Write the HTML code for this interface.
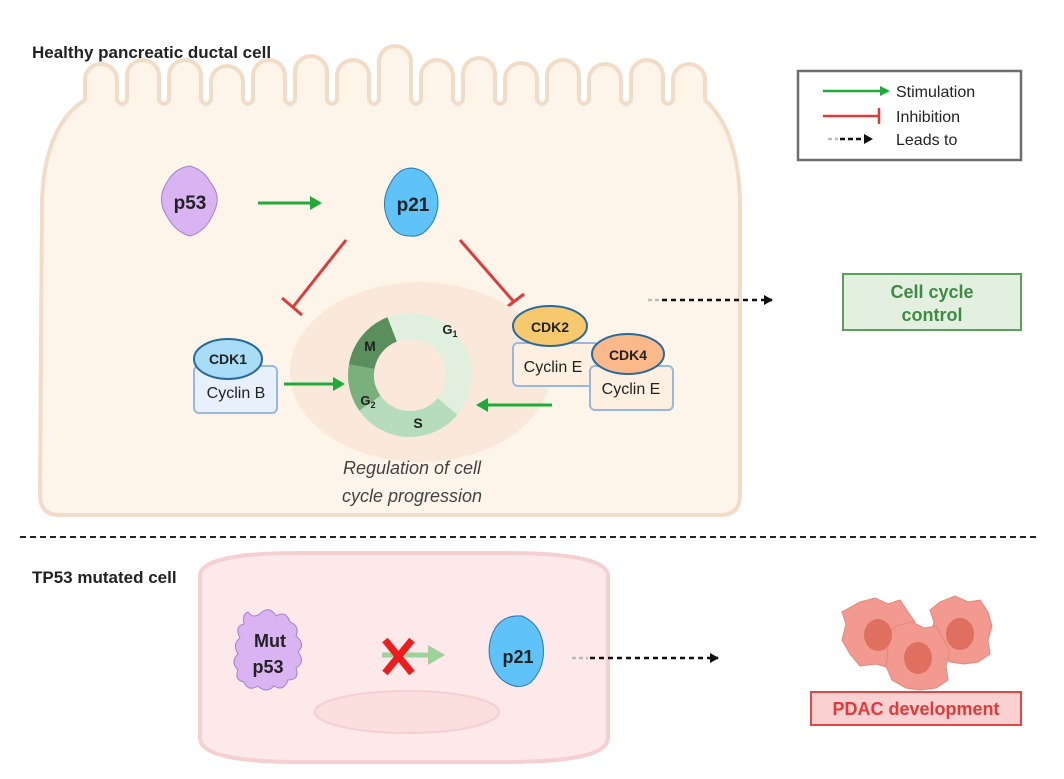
<!DOCTYPE html>
<html><head><meta charset="utf-8"><style>
html,body{margin:0;padding:0;background:#fff;}
svg{display:block;font-family:"Liberation Sans",sans-serif;}
</style></head><body>
<svg width="1064" height="779" viewBox="0 0 1064 779" xmlns="http://www.w3.org/2000/svg">
<defs>
<marker id="ga" markerWidth="10" markerHeight="10" refX="8" refY="5" orient="auto" markerUnits="userSpaceOnUse"><path d="M0,0 L10,5 L0,10 Z" fill="#1faa3a"/></marker>
<marker id="gaL" markerWidth="12" markerHeight="14" refX="10" refY="7" orient="auto" markerUnits="userSpaceOnUse"><path d="M0,0 L12,7 L0,14 Z" fill="#1faa3a"/></marker>
<marker id="ka" markerWidth="9" markerHeight="10" refX="8" refY="5" orient="auto" markerUnits="userSpaceOnUse"><path d="M0,0 L9,5 L0,10 Z" fill="#111"/></marker>
</defs>

<!-- healthy cell -->
<path d="M60,515 L720,515 Q740,515 740,495 L740,200 Q738,130 705,100
L705,80 A16,16 0 0 0 673,80 L673,100 Q668,108 663,100
L663,76 A16,16 0 0 0 631,76 L631,100 Q626,108 621,100
L621,80 A16,16 0 0 0 589,80 L589,100 Q584,108 579,100
L579,76 A16,16 0 0 0 547,76 L547,100 Q542,108 537,100
L537,79 A16,16 0 0 0 505,79 L505,100 Q500,108 495,100
L495,74 A16,16 0 0 0 463,74 L463,100 Q458,108 453,100
L453,76 A16,16 0 0 0 421,76 L421,100 Q416,108 411,100
L411,62 A16,16 0 0 0 379,62 L379,100 Q374,108 369,100
L369,76 A16,16 0 0 0 337,76 L337,100 Q332,108 327,100
L327,72 A16,16 0 0 0 295,72 L295,100 Q290,108 285,100
L285,76 A16,16 0 0 0 253,76 L253,100 Q248,108 243,100
L243,82 A16,16 0 0 0 211,82 L211,100 Q206,108 201,100
L201,76 A16,16 0 0 0 169,76 L169,100 Q164,108 159,100
L159,76 A16,16 0 0 0 127,76 L127,100 Q122,108 117,100
L117,80 A16,16 0 0 0 85,80 L85,100 Q45,125 42,200 L40,495 Q40,515 60,515 Z"
fill="#fdf5ea" stroke="#f2dcc6" stroke-width="4"/>

<text x="32" y="58" font-size="17" font-weight="bold" fill="#222">Healthy pancreatic ductal cell</text>

<!-- legend -->
<rect x="798" y="71" width="223" height="89" fill="#fff" stroke="#6b6f72" stroke-width="2.5"/>
<line x1="823" y1="91" x2="888" y2="91" stroke="#1faa3a" stroke-width="2.5" marker-end="url(#ga)"/>
<text x="896" y="97" font-size="16" fill="#222">Stimulation</text>
<line x1="823" y1="116" x2="879" y2="116" stroke="#e03a3a" stroke-width="2.5"/>
<line x1="879" y1="108" x2="879" y2="124" stroke="#e03a3a" stroke-width="2.5"/>
<text x="896" y="122" font-size="16" fill="#222">Inhibition</text>
<line x1="828" y1="139" x2="838" y2="139" stroke="#bbb" stroke-width="2.5" stroke-dasharray="4,3"/>
<line x1="840" y1="139" x2="872" y2="139" stroke="#111" stroke-width="2.5" stroke-dasharray="5,3" marker-end="url(#ka)"/>
<text x="896" y="145" font-size="16" fill="#222">Leads to</text>

<!-- p53 -->
<path d="M190,166 Q204,170 210,182 Q222,196 214,212 Q206,232 190,236 Q176,232 168,218 Q156,200 166,184 Q174,168 190,166 Z" fill="#d9b3f2" stroke="#a481c6" stroke-width="1"/>
<text x="190" y="209" font-size="19" font-weight="bold" fill="#222" text-anchor="middle">p53</text>
<line x1="258" y1="203" x2="320" y2="203" stroke="#1faa3a" stroke-width="3" marker-end="url(#gaL)"/>
<!-- p21 -->
<path d="M412,168 Q428,170 434,186 Q442,202 434,220 Q424,238 410,236 Q394,236 388,220 Q380,202 390,184 Q398,168 412,168 Z" fill="#5fc3f7" stroke="#2a78b0" stroke-width="1"/>
<text x="413" y="211" font-size="19" font-weight="bold" fill="#222" text-anchor="middle">p21</text>

<!-- inhibitions -->
<line x1="346" y1="240" x2="293" y2="307" stroke="#e03a3a" stroke-width="3"/>
<line x1="282" y1="298" x2="302" y2="315" stroke="#e03a3a" stroke-width="3"/>
<line x1="460" y1="240" x2="514" y2="302" stroke="#e03a3a" stroke-width="3"/>
<line x1="503" y1="310" x2="524" y2="294" stroke="#e03a3a" stroke-width="3"/>

<!-- cycle -->
<ellipse cx="420" cy="372" rx="130" ry="90" fill="#fae9da"/>
<circle cx="410" cy="375" r="49" fill="none" stroke="#e1efdf" stroke-width="26"/>
<circle cx="410" cy="375" r="49" fill="none" stroke="#b6dbbd" stroke-width="26" stroke-dasharray="90 400" transform="rotate(40 410 375)"/>
<circle cx="410" cy="375" r="49" fill="none" stroke="#79b07b" stroke-width="26" stroke-dasharray="39 400" transform="rotate(145 410 375)"/>
<circle cx="410" cy="375" r="49" fill="none" stroke="#5a8e5d" stroke-width="26" stroke-dasharray="50 400" transform="rotate(190 410 375)"/>
<text x="370" y="351" font-size="14" font-weight="bold" fill="#222" text-anchor="middle">M</text>
<text x="450" y="334" font-size="13" font-weight="bold" fill="#222" text-anchor="middle">G<tspan font-size="9" dy="3">1</tspan></text>
<text x="368" y="405" font-size="13" font-weight="bold" fill="#222" text-anchor="middle">G<tspan font-size="9" dy="3">2</tspan></text>
<text x="418" y="428" font-size="14" font-weight="bold" fill="#222" text-anchor="middle">S</text>

<!-- CDK1 -->
<rect x="194" y="366" width="83" height="47" rx="5" fill="#e8f1fb" stroke="#9ab8de" stroke-width="2"/>
<ellipse cx="228" cy="359" rx="34" ry="20" fill="#a9dcf7" stroke="#2a6a99" stroke-width="2"/>
<text x="228" y="364" font-size="14" font-weight="bold" fill="#222" text-anchor="middle">CDK1</text>
<text x="236" y="398" font-size="16" fill="#222" text-anchor="middle">Cyclin B</text>
<line x1="284" y1="384" x2="343" y2="384" stroke="#1faa3a" stroke-width="3" marker-end="url(#gaL)"/>

<!-- CDK2 -->
<rect x="513" y="343" width="86" height="43" rx="5" fill="#fdf0e0" stroke="#9ab8de" stroke-width="2"/>
<ellipse cx="550" cy="326" rx="37" ry="20" fill="#f6c96f" stroke="#2a6a99" stroke-width="2"/>
<text x="550" y="332" font-size="14" font-weight="bold" fill="#222" text-anchor="middle">CDK2</text>
<text x="553" y="372" font-size="16" fill="#222" text-anchor="middle">Cyclin E</text>
<!-- CDK4 -->
<rect x="590" y="366" width="83" height="44" rx="5" fill="#fdf0e0" stroke="#9ab8de" stroke-width="2"/>
<ellipse cx="628" cy="354" rx="36" ry="20" fill="#fbb98a" stroke="#2a6a99" stroke-width="2"/>
<text x="628" y="360" font-size="14" font-weight="bold" fill="#222" text-anchor="middle">CDK4</text>
<text x="631" y="394" font-size="16" fill="#222" text-anchor="middle">Cyclin E</text>
<line x1="552" y1="405" x2="478" y2="405" stroke="#1faa3a" stroke-width="3" marker-end="url(#gaL)"/>

<text x="412" y="474" font-size="18" font-style="italic" fill="#444" text-anchor="middle">Regulation of  cell</text>
<text x="412" y="502" font-size="18" font-style="italic" fill="#444" text-anchor="middle">cycle progression</text>

<line x1="648" y1="300" x2="660" y2="300" stroke="#bbb" stroke-width="2.5" stroke-dasharray="4,3"/>
<line x1="662" y1="300" x2="772" y2="300" stroke="#111" stroke-width="2.5" stroke-dasharray="5,4" marker-end="url(#ka)"/>
<rect x="843" y="274" width="178" height="56" fill="#e3f0df" stroke="#5aa05a" stroke-width="2"/>
<text x="932" y="298" font-size="18" font-weight="bold" fill="#3f8a45" text-anchor="middle">Cell cycle</text>
<text x="932" y="321" font-size="18" font-weight="bold" fill="#3f8a45" text-anchor="middle">control</text>

<line x1="20" y1="537" x2="1040" y2="537" stroke="#222" stroke-width="2" stroke-dasharray="6,4"/>

<!-- mutated cell -->
<path d="M200,576 Q200,553 300,553 L505,553 Q608,553 608,576 L608,738 Q608,762 505,762 L300,762 Q200,762 200,738 Z" fill="#fde9e9" stroke="#f6d0d0" stroke-width="4"/>
<ellipse cx="407" cy="712" rx="92" ry="21" fill="#fbdede" stroke="#f6cfcf" stroke-width="2"/>
<text x="32" y="583" font-size="17" font-weight="bold" fill="#222">TP53 mutated cell</text>

<path d="M248,612 Q254,620 262,612 Q270,606 276,616 Q286,610 290,622 Q300,626 296,636 Q306,644 298,652 Q306,662 296,668 Q300,680 288,680 Q284,692 274,686 Q266,694 258,686 Q248,692 244,682 Q234,680 238,670 Q230,662 238,654 Q232,644 240,638 Q234,626 244,624 Q242,614 248,612 Z" fill="#d9b3f2" stroke="#a481c6" stroke-width="1"/>
<text x="270" y="647" font-size="18" font-weight="bold" fill="#222" text-anchor="middle">Mut</text>
<text x="268" y="673" font-size="18" font-weight="bold" fill="#222" text-anchor="middle">p53</text>

<line x1="382" y1="655" x2="430" y2="655" stroke="#9dd29b" stroke-width="5"/>
<path d="M428,645 L445,655 L428,665 Z" fill="#9dd29b"/>
<line x1="385" y1="640" x2="412" y2="673" stroke="#ee1c1c" stroke-width="7"/>
<line x1="412" y1="640" x2="385" y2="673" stroke="#ee1c1c" stroke-width="7"/>

<path d="M522,616 Q540,624 543,644 Q546,668 530,683 Q516,692 500,678 Q486,662 490,642 Q496,614 522,616 Z" fill="#5fc3f7" stroke="#2a78b0" stroke-width="1"/>
<text x="518" y="663" font-size="18" font-weight="bold" fill="#222" text-anchor="middle">p21</text>
<line x1="572" y1="658" x2="588" y2="658" stroke="#bbb" stroke-width="2.5" stroke-dasharray="4,3"/>
<line x1="590" y1="658" x2="718" y2="658" stroke="#111" stroke-width="2.5" stroke-dasharray="5,4" marker-end="url(#ka)"/>

<!-- cancer cells -->
<g stroke="#e6847a" stroke-width="1">
<path d="M860,602 L875,598 L888,604 L900,600 L908,612 L915,622 L912,636 L916,650 L904,660 L890,668 L876,664 L860,666 L850,654 L842,640 L846,624 L842,612 Z" fill="#f39a90"/>
<path d="M940,602 L955,596 L968,602 L980,600 L988,612 L992,626 L988,640 L990,654 L978,662 L964,664 L950,662 L938,652 L930,638 L934,622 L930,610 Z" fill="#f39a90"/>
<path d="M896,626 L912,622 L924,628 L936,626 L944,640 L950,652 L946,666 L948,680 L936,688 L920,690 L906,688 L892,680 L886,666 L888,652 L884,638 Z" fill="#f39a90"/>
</g>
<ellipse cx="878" cy="635" rx="14" ry="16" fill="#df6f5f"/>
<ellipse cx="960" cy="634" rx="14" ry="16" fill="#df6f5f"/>
<ellipse cx="918" cy="658" rx="14" ry="16" fill="#df6f5f"/>
<rect x="811" y="692" width="210" height="33" fill="#fbd0d0" stroke="#e04848" stroke-width="2"/>
<text x="916" y="715" font-size="18" font-weight="bold" fill="#e03a3a" text-anchor="middle">PDAC development</text>
</svg>
</body></html>
